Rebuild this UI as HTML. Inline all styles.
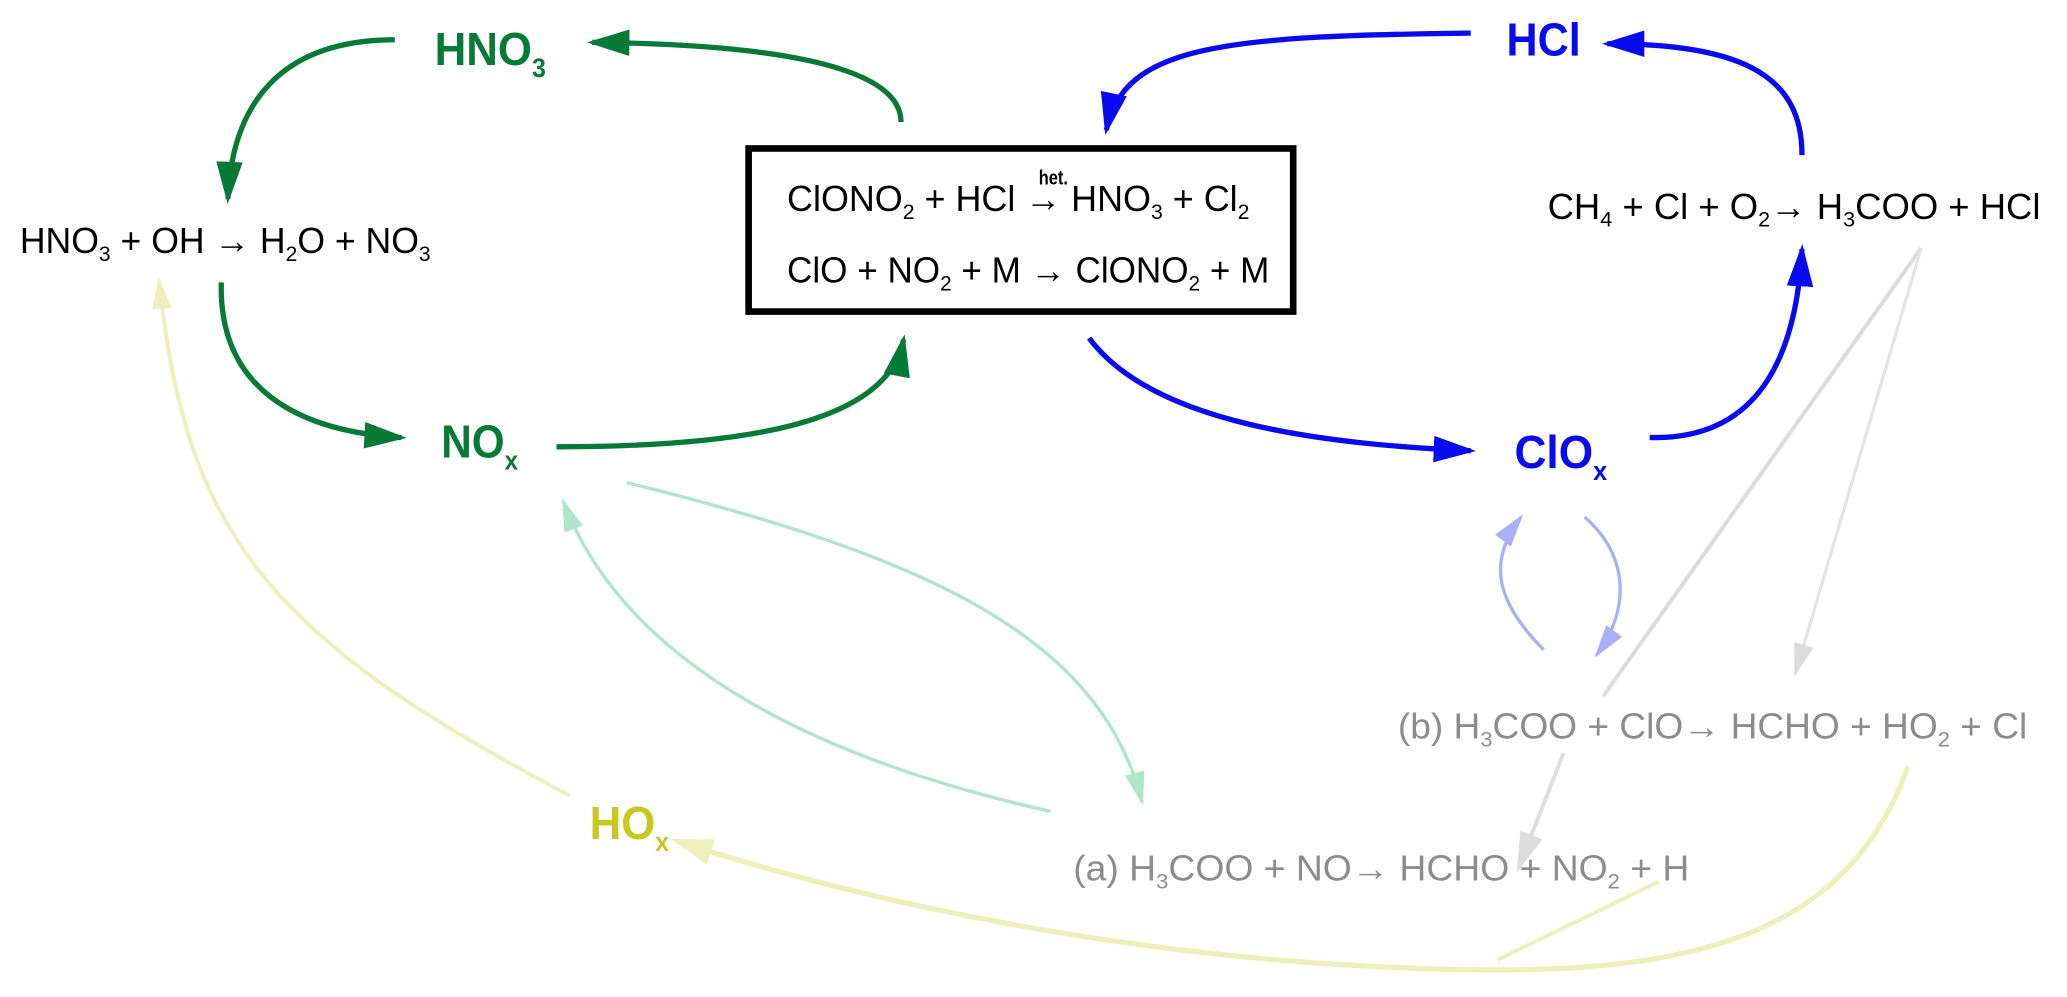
<!DOCTYPE html>
<html><head><meta charset="utf-8"><style>
html,body{margin:0;padding:0;background:#fff;}
svg{display:block;}
text{font-family:"Liberation Sans",Arial,sans-serif;}
</style></head><body>
<svg width="2067" height="997" viewBox="0 0 1560 752" preserveAspectRatio="none" xmlns="http://www.w3.org/2000/svg">
<defs>
<marker id="mg" markerWidth="8" markerHeight="5" refX="7" refY="2.5" orient="auto" markerUnits="strokeWidth"><path d="M0,0 L8,2.5 L0,5 z" fill="#087a38"/></marker>
<marker id="mb" markerWidth="8" markerHeight="5" refX="7" refY="2.5" orient="auto" markerUnits="strokeWidth"><path d="M0,0 L8,2.5 L0,5 z" fill="#0a0af0"/></marker>
<marker id="mlb" markerWidth="10" markerHeight="6" refX="9" refY="3" orient="auto" markerUnits="strokeWidth"><path d="M0,0 L10,3 L0,6 z" fill="#aab0f8"/></marker>
<marker id="mgr" markerWidth="10" markerHeight="6" refX="9" refY="3" orient="auto" markerUnits="strokeWidth"><path d="M0,0 L10,3 L0,6 z" fill="#dcdcdc"/></marker>
<marker id="mlg" markerWidth="10" markerHeight="6" refX="9" refY="3" orient="auto" markerUnits="strokeWidth"><path d="M0,0 L10,3 L0,6 z" fill="#aee6cc"/></marker>
<marker id="my" markerWidth="8" markerHeight="5" refX="7" refY="2.5" orient="auto" markerUnits="strokeWidth"><path d="M0,0 L8,2.5 L0,5 z" fill="#eef0bc"/></marker>
</defs>

<g fill="none">
<path d="M430,600 C200,480 140,400 120,212" stroke="#eef0bc" stroke-width="3" marker-end="url(#my)"/>
<path d="M1440,578 C1390,720 1250,738 1060,730 C850,722 650,680 510,634" stroke="#eef0bc" stroke-width="4" marker-end="url(#my)"/>
<path d="M1252,665 L1130,724" stroke="#eef0bc" stroke-width="3"/>
<path d="M473,364 C700,420 830,480 862,605" stroke="#aee6cc" stroke-width="2.5" marker-end="url(#mlg)"/>
<path d="M793,612 C560,560 460,470 425,378" stroke="#aee6cc" stroke-width="2.5" marker-end="url(#mlg)"/>
<path d="M1450,187 L1210,525" stroke="#dcdcdc" stroke-width="3"/>
<path d="M1180,568 L1146,655" stroke="#dcdcdc" stroke-width="3" marker-end="url(#mgr)"/>
<path d="M1450,187 L1355,508" stroke="#e4e4e4" stroke-width="2.5" marker-end="url(#mgr)"/>
<path d="M1165,490 C1125,450 1125,420 1148,390" stroke="#aab0f8" stroke-width="2.5" marker-end="url(#mlb)"/>
<path d="M1196,390 C1230,420 1230,460 1205,494" stroke="#aab0f8" stroke-width="2.5" marker-end="url(#mlb)"/>
</g>

<g fill="none" stroke="#087a38" stroke-width="4">
<path d="M298,30 C210,30 175,80 172,150" marker-end="url(#mg)"/>
<path d="M680,92 C680,45 560,33 447,32" marker-end="url(#mg)"/>
<path d="M167,213 C165,290 220,325 303,330" marker-end="url(#mg)"/>
<path d="M420,337 C560,337 670,320 682,256" marker-end="url(#mg)"/>
</g>
<g fill="none" stroke="#0a0af0" stroke-width="4">
<path d="M1110,25 C920,27 848,35 835,98" marker-end="url(#mb)"/>
<path d="M1360,117 C1360,60 1320,33 1213,33" marker-end="url(#mb)"/>
<path d="M822,255 C870,320 1000,335 1110,340" marker-end="url(#mb)"/>
<path d="M1245,330 C1320,332 1355,280 1360,188" marker-end="url(#mb)"/>
</g>

<rect x="565" y="112" width="411" height="123" fill="none" stroke="#000" stroke-width="5"/>

<g font-size="27" fill="#000">
<text x="15" y="191" textLength="310" lengthAdjust="spacingAndGlyphs">HNO<tspan font-size="16" dy="6">3</tspan><tspan dy="-6"> + OH → H</tspan><tspan font-size="16" dy="6">2</tspan><tspan dy="-6">O + NO</tspan><tspan font-size="16" dy="6">3</tspan></text>
<text x="594" y="159" textLength="349" lengthAdjust="spacingAndGlyphs">ClONO<tspan font-size="16" dy="6">2</tspan><tspan dy="-6"> + HCl → HNO</tspan><tspan font-size="16" dy="6">3</tspan><tspan dy="-6"> + Cl</tspan><tspan font-size="16" dy="6">2</tspan></text>
<text x="784" y="139" font-size="15" font-weight="bold" textLength="22" lengthAdjust="spacingAndGlyphs">het.</text>
<text x="594" y="213" textLength="364" lengthAdjust="spacingAndGlyphs">ClO + NO<tspan font-size="16" dy="6">2</tspan><tspan dy="-6"> + M → ClONO</tspan><tspan font-size="16" dy="6">2</tspan><tspan dy="-6"> + M</tspan></text>
<text x="1168" y="165" textLength="372" lengthAdjust="spacingAndGlyphs">CH<tspan font-size="16" dy="6">4</tspan><tspan dy="-6"> + Cl + O</tspan><tspan font-size="16" dy="6">2</tspan><tspan dy="-6">→  H</tspan><tspan font-size="16" dy="6">3</tspan><tspan dy="-6">COO + HCl</tspan></text>
</g>
<g font-size="27" fill="#8c8c8c">
<text x="1055" y="557" textLength="475" lengthAdjust="spacingAndGlyphs">(b) H<tspan font-size="16" dy="6">3</tspan><tspan dy="-6">COO +  ClO→  HCHO + HO</tspan><tspan font-size="16" dy="6">2</tspan><tspan dy="-6"> + Cl</tspan></text>
<text x="810" y="664" textLength="465" lengthAdjust="spacingAndGlyphs">(a) H<tspan font-size="16" dy="6">3</tspan><tspan dy="-6">COO +  NO→  HCHO + NO</tspan><tspan font-size="16" dy="6">2</tspan><tspan dy="-6"> + H</tspan></text>
</g>
<g font-size="35" font-weight="bold">
<text x="328" y="49" fill="#087a38" textLength="84" lengthAdjust="spacingAndGlyphs">HNO<tspan font-size="20" dy="9">3</tspan></text>
<text x="333" y="345" fill="#087a38" textLength="58" lengthAdjust="spacingAndGlyphs">NO<tspan font-size="20" dy="9">x</tspan></text>
<text x="1137" y="42" fill="#0a0af0" textLength="56" lengthAdjust="spacingAndGlyphs">HCl</text>
<text x="1143" y="353" fill="#0a0af0" textLength="70" lengthAdjust="spacingAndGlyphs">ClO<tspan font-size="20" dy="9">x</tspan></text>
<text x="445" y="633" fill="#c8c820" textLength="60" lengthAdjust="spacingAndGlyphs">HO<tspan font-size="20" dy="9">x</tspan></text>
</g>
</svg>
</body></html>
